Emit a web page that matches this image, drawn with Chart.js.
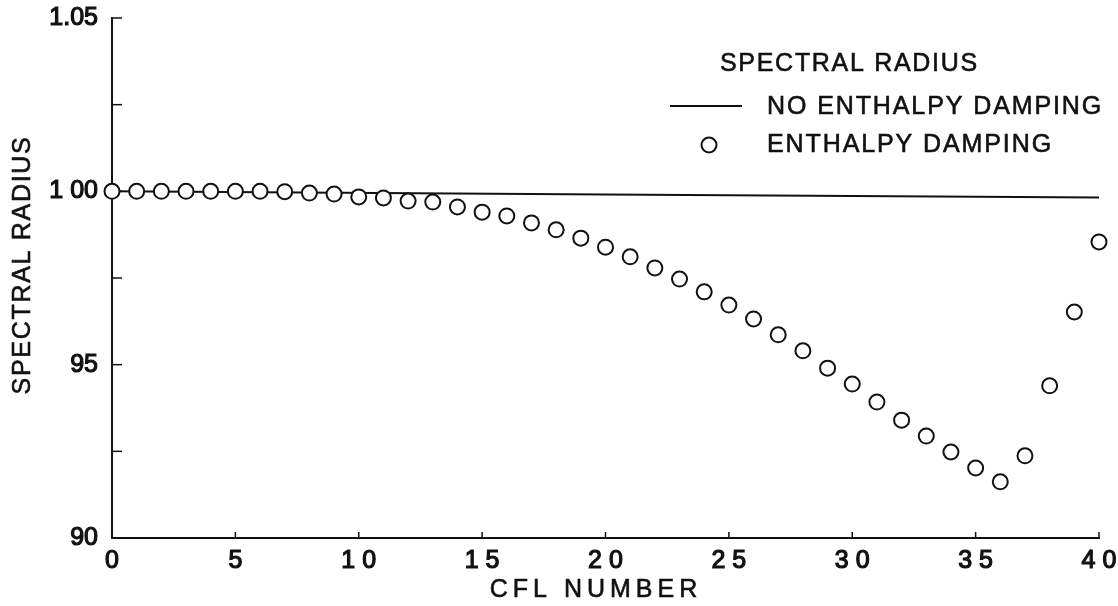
<!DOCTYPE html>
<html lang="en">
<head>
    <meta charset="UTF-8">
    <title>Spectral radius vs CFL number</title>
    <script src="https://cdn.jsdelivr.net/npm/chart.js"></script>
    <style>
        body { margin: 0; background: #fff; }
        canvas { display: block; }
    </style>
</head>
<body>
    <canvas id="myChart" width="1118" height="606"></canvas>

    <script>
        // data
        const cflNumbers = [0, 1, 2, 3, 4, 5, 6, 7, 8, 9, 10, 11, 12, 13, 14, 15, 16, 17, 18, 19, 20,
            21, 22, 23, 24, 25, 26, 27, 28, 29, 30, 31, 32, 33, 34, 35, 36, 37, 38, 39, 40];
        const dampedRadius = [1.0000, 1.0000, 1.0000, 1.0000, 1.0000, 1.0000, 1.0000, 0.9999, 0.9995, 0.9992,
            0.9984, 0.9981, 0.9972, 0.9969, 0.9955, 0.9940, 0.9929, 0.9909, 0.9889, 0.9865,
            0.9839, 0.9811, 0.9779, 0.9747, 0.9710, 0.9672, 0.9632, 0.9586, 0.9540, 0.9490,
            0.9444, 0.9392, 0.9340, 0.9294, 0.9248, 0.9202, 0.9162, 0.9237, 0.9439, 0.9652, 0.9854];
        const lineCfl = [0, 20, 40];
        const undampedRadius = [1.0000, 0.9991, 0.9982];

        const xTickLabels = ['0', '5', '1 0', '1 5', '2 0', '2 5', '3 0', '3 5', '4 0'];
        const yTickLabels = ['90', '', '95', '', '1 00', '', '1.05'];
        const xMarks = [5, 10, 15, 20, 25, 30, 35, 40];
        const yMarks = [0.925, 0.95, 0.975, 1.0, 1.025, 1.05];

        const FONT = '"Liberation Sans", Arial, sans-serif';
        const INK = '#111';

        const overlay = {
            id: 'overlay',
            beforeDatasetsDraw(chart) {
                const { ctx, chartArea, scales } = chart;
                ctx.save();
                ctx.strokeStyle = INK;
                ctx.lineWidth = 1.5;
                // little inward tick marks
                yMarks.forEach(v => {
                    const y = scales.y.getPixelForValue(v);
                    ctx.beginPath();
                    ctx.moveTo(chartArea.left, y);
                    ctx.lineTo(chartArea.left + 10, y);
                    ctx.stroke();
                });
                xMarks.forEach(v => {
                    const x = scales.x.getPixelForValue(v);
                    ctx.beginPath();
                    ctx.moveTo(x, chartArea.bottom);
                    ctx.lineTo(x, chartArea.bottom - 6);
                    ctx.stroke();
                });
                ctx.restore();
            },
            afterDraw(chart) {
                const { ctx } = chart;
                const ds = chart.data.datasets;
                ctx.save();
                ctx.fillStyle = INK;
                ctx.strokeStyle = INK;
                ctx.lineWidth = 0.6;
                ctx.font = '25px ' + FONT;
                ctx.textBaseline = 'middle';
                const write = (t, x, y) => { ctx.fillText(t, x, y); ctx.strokeText(t, x, y); };

                // axis titles
                ctx.letterSpacing = '5px';
                ctx.textAlign = 'center';
                write('CFL NUMBER', 596, 590);

                ctx.letterSpacing = '1.7px';
                ctx.save();
                ctx.translate(23, 265);
                ctx.rotate(-Math.PI / 2);
                write('SPECTRAL RADIUS', 0, 0);
                ctx.restore();

                // legend
                ctx.textAlign = 'left';
                write('SPECTRAL RADIUS', 720, 64);
                ctx.letterSpacing = '1.9px';
                write('NO ENTHALPY DAMPING', 767, 107);
                write('ENTHALPY DAMPING', 767, 145);

                ctx.strokeStyle = ds[1].borderColor;
                ctx.lineWidth = ds[1].borderWidth;
                ctx.beginPath();
                ctx.moveTo(670, 106);
                ctx.lineTo(742, 106);
                ctx.stroke();

                ctx.lineWidth = ds[0].pointBorderWidth;
                ctx.fillStyle = ds[0].pointBackgroundColor;
                ctx.beginPath();
                ctx.arc(709, 145, ds[0].pointRadius, 0, Math.PI * 2);
                ctx.fill();
                ctx.stroke();
                ctx.restore();
            }
        };

        window.onload = () => {
            const ctx = document.getElementById('myChart');

            new Chart(ctx, {
                type: 'scatter',
                data: {
                    datasets: [{
                        label: 'ENTHALPY DAMPING',
                        data: cflNumbers.map((c, i) => ({ x: c, y: dampedRadius[i] })),
                        pointRadius: 7.5,
                        pointBorderWidth: 2,
                        pointBorderColor: INK,
                        pointBackgroundColor: '#fff',
                        borderColor: INK,
                        order: 1,
                        clip: false,
                    }, {
                        label: 'NO ENTHALPY DAMPING',
                        data: lineCfl.map((c, i) => ({ x: c, y: undampedRadius[i] })),
                        showLine: true,
                        pointRadius: 0,
                        borderColor: INK,
                        borderWidth: 2,
                        order: 2,
                        clip: false,
                    }]
                },
                options: {
                    responsive: false,
                    animation: false,
                    layout: { padding: { left: 0, top: 18, right: 19, bottom: 0 } },
                    scales: {
                        x: {
                            type: 'linear',
                            min: 0,
                            max: 40,
                            afterFit: s => { s.height = 68; s.paddingLeft = 0; s.paddingRight = 0; },
                            grid: { display: false, drawTicks: false },
                            border: { display: true, color: INK, width: 2 },
                            ticks: {
                                stepSize: 5,
                                padding: 8,
                                color: INK,
                                textStrokeColor: INK,
                                textStrokeWidth: 1.2,
                                font: { size: 25, family: FONT },
                                maxRotation: 0,
                                callback: (v, i) => xTickLabels[i]
                            }
                        },
                        y: {
                            min: 0.9,
                            max: 1.05,
                            afterFit: s => { s.width = 112; s.paddingTop = 0; s.paddingBottom = 0; },
                            grid: { display: false, drawTicks: false },
                            border: { display: true, color: INK, width: 2 },
                            ticks: {
                                stepSize: 0.025,
                                padding: 14,
                                color: INK,
                                textStrokeColor: INK,
                                textStrokeWidth: 1.2,
                                font: { size: 25, family: FONT },
                                autoSkip: false,
                                callback: (v, i) => yTickLabels[i]
                            }
                        }
                    },
                    plugins: {
                        legend: { display: false },
                        tooltip: { enabled: false },
                        title: { display: false }
                    }
                },
                plugins: [overlay]
            });
        }
    </script>
</body>
</html>
